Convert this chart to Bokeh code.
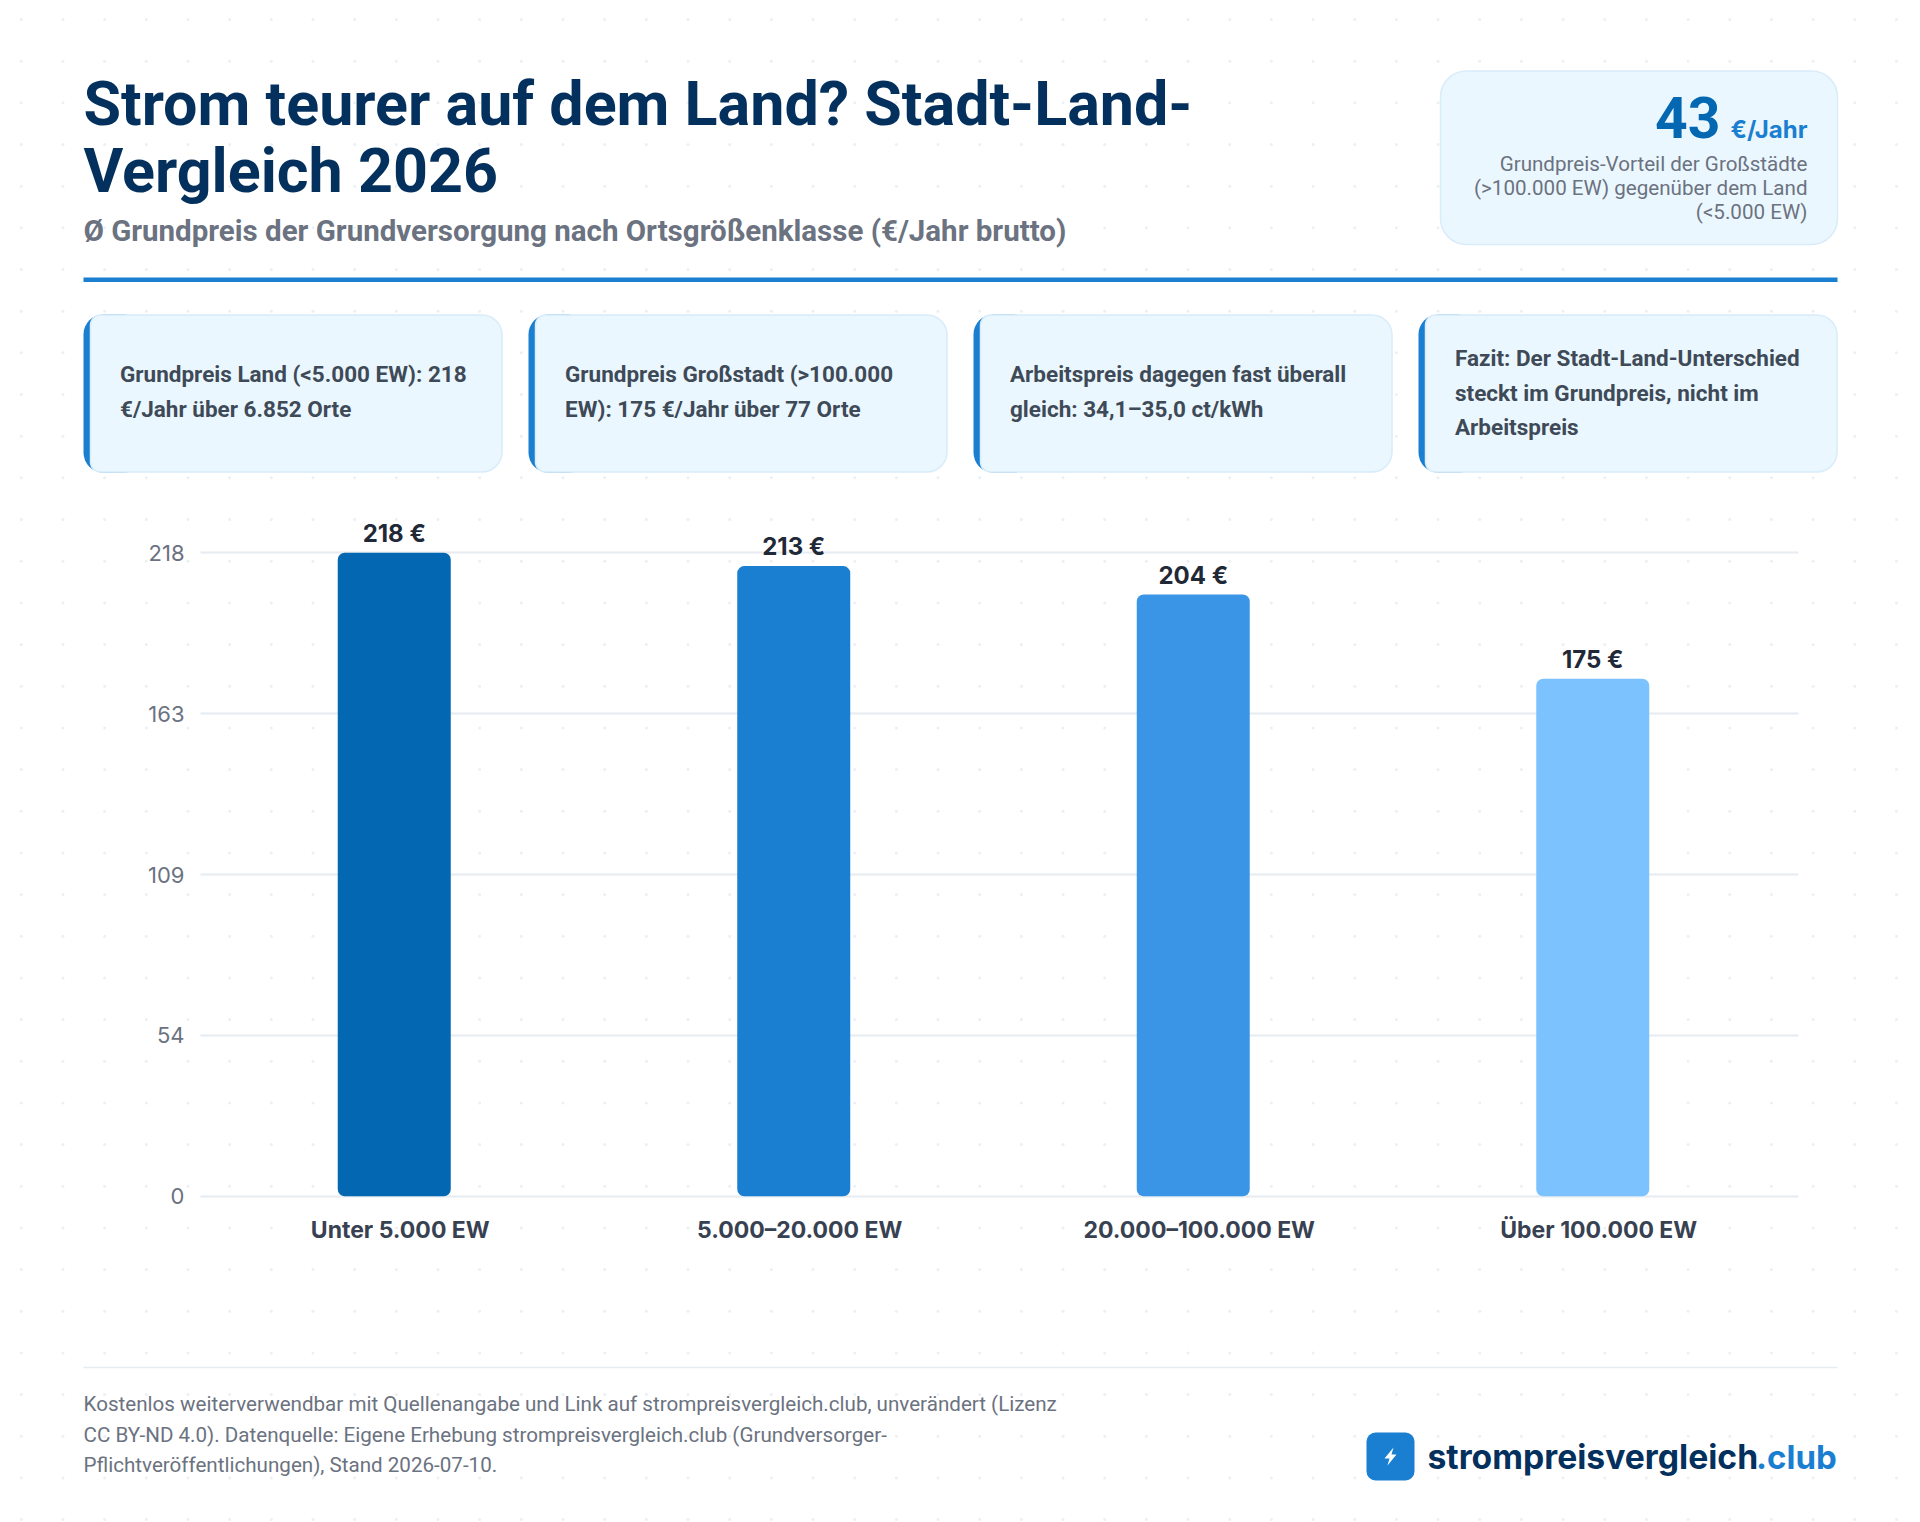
import numpy as np
from bokeh.plotting import figure
from bokeh.models import Range1d, FixedTicker, Label, ColumnDataSource
from bokeh.core.properties import value
from bokeh.embed import file_html
from bokeh.resources import INLINE

# ---- data ----
categories = ["Unter 5.000 EW", "5.000–20.000 EW", "20.000–100.000 EW", "Über 100.000 EW"]
grundpreis = [218, 213.5, 203.9, 175.3]
value_labels = ["218 €", "213 €", "204 €", "175 €"]
bar_colors = ["#0367B2", "#1A7FD0", "#3A95E6", "#7CC2FF"]
y_ticks = [0, 54.5, 109, 163.5, 218]
y_tick_labels = ["0", "54", "109", "163", "218"]

title_lines = ["Strom teurer auf dem Land? Stadt-Land-", "Vergleich 2026"]
subtitle = "Ø Grundpreis der Grundversorgung nach Ortsgrößenklasse (€/Jahr brutto)"
kpi_value = "43"
kpi_unit = "€/Jahr"
kpi_lines = ["Grundpreis-Vorteil der Großstädte", "(>100.000 EW) gegenüber dem Land", "(<5.000 EW)"]
cards = [
    ["Grundpreis Land (<5.000 EW): 218", "€/Jahr über 6.852 Orte"],
    ["Grundpreis Großstadt (>100.000", "EW): 175 €/Jahr über 77 Orte"],
    ["Arbeitspreis dagegen fast überall", "gleich: 34,1–35,0 ct/kWh"],
    ["Fazit: Der Stadt-Land-Unterschied", "steckt im Grundpreis, nicht im", "Arbeitspreis"],
]
footer_lines = [
    "Kostenlos weiterverwendbar mit Quellenangabe und Link auf strompreisvergleich.club, unverändert (Lizenz",
    "CC BY-ND 4.0). Datenquelle: Eigene Erhebung strompreisvergleich.club (Grundversorger-",
    "Pflichtveröffentlichungen), Stand 2026-07-10.",
]
brand = ["strompreisvergleich", ".club"]

# ---- layout constants (page pixels) ----
W, H = 1920, 1522
NAVY, BLUE, GREY, SLATE = "#03305C", "#1A7FD0", "#6B7280", "#3E4A57"
CARD_FILL, CARD_LINE = "#EBF7FE", "#D9ECFA"
PLOT_L, PLOT_R, BASE_Y, TOP_Y = 200, 1798, 1195.7, 552.3
BAND = (PLOT_R - PLOT_L) / 4
PPU = (BASE_Y - TOP_Y) / 218
K = 0.35   # offset of the renderer's alphabetic baseline, in em


def xdata(px):
    return (px - PLOT_L - BAND / 2) / BAND


def ydata(py):
    return (BASE_Y - py) / PPU


p = figure(width=W, height=H, output_backend="svg", toolbar_location=None,
           x_range=Range1d(xdata(0), xdata(W)), y_range=Range1d(ydata(H), ydata(0)),
           min_border=0, background_fill_color="white", border_fill_color="white")
p.outline_line_color = None
p.extra_x_ranges = {"px": Range1d(0, W)}
p.extra_y_ranges = {"py": Range1d(H, 0)}
PX = dict(x_range_name="px", y_range_name="py")

# dotted page background
gx, gy = np.meshgrid(20.8 + 41.67 * np.arange(46), 19 + 41.67 * np.arange(37))
p.scatter(gx.ravel(), gy.ravel(), size=3, color="#EBF0F3", line_color=None, level="underlay", **PX)

# axes and grid through the library's scales
xa = p.xaxis[0]
xa.fixed_location = 0
xa.ticker = FixedTicker(ticks=list(range(len(categories))))
xa.major_label_overrides = {i: c for i, c in enumerate(categories)}
xa.axis_line_color = None
xa.major_tick_line_color = None
xa.minor_tick_line_color = None
xa.major_label_text_font = "Inter"
xa.major_label_text_font_size = "23px"
xa.major_label_text_font_style = "bold"
xa.major_label_text_color = "#374151"
xa.major_label_standoff = 14

ya = p.yaxis[0]
ya.fixed_location = xdata(PLOT_L)
ya.ticker = FixedTicker(ticks=y_ticks)
ya.major_label_overrides = {t: l for t, l in zip(y_ticks, y_tick_labels)}
ya.axis_line_color = None
ya.major_tick_line_color = None
ya.minor_tick_line_color = None
ya.major_label_text_font = "Inter"
ya.major_label_text_font_size = "22px"
ya.major_label_text_color = GREY
ya.major_label_standoff = 10

p.xgrid.visible = False
p.ygrid.ticker = FixedTicker(ticks=y_ticks)
if "cross_bounds" in p.ygrid.properties():
    p.ygrid.cross_bounds = (xdata(PLOT_L), xdata(PLOT_R))
    p.ygrid.grid_line_color = "#E6ECF2"
    p.ygrid.grid_line_width = 2
else:
    p.ygrid.visible = False
    p.segment(x0=[xdata(PLOT_L)] * 5, x1=[xdata(PLOT_R)] * 5, y0=y_ticks, y1=y_ticks,
              line_color="#E6ECF2", line_width=2, level="underlay")


def label(x, y, text, size, color, style="normal", align="left", font="Roboto"):
    p.add_layout(Label(x=x, y=y - K * size, text=text, text_font=font, text_font_size=f"{size}px",
                       text_color=color, text_font_style=style, text_align=align,
                       text_baseline="alphabetic", **PX))


# header
label(83, 125, title_lines[0], 61, NAVY, "bold")
label(83, 192, title_lines[1], 61, NAVY, "bold")
label(83, 241, subtitle, 29.5, GREY, "bold")
p.quad(left=[83], right=[1837], top=[277], bottom=[281.5], color=BLUE, line_color=None, **PX)

# KPI box
p.quad(left=[1440], right=[1837], top=[70.5], bottom=[244], fill_color=CARD_FILL,
       line_color=CARD_LINE, line_width=1.5, border_radius=26, **PX)
label(1720, 137, kpi_value, 57, "#0367B2", "bold", "right")
label(1807, 137, kpi_unit, 24, BLUE, "bold", "right", font="Inter")
for line, base in zip(kpi_lines, [171, 195, 219]):
    label(1807, base, line, 20.6, GREY, align="right")

# cards
card_w = 418.5
for i, lines in enumerate(cards):
    left = 83 + i * 445
    p.quad(left=[left], right=[left + 60], top=[314], bottom=[472], fill_color=BLUE,
           line_color=None, border_radius=20, **PX)
    p.quad(left=[left + 7], right=[left + card_w], top=[314.5], bottom=[471.5], fill_color=CARD_FILL,
           line_color=CARD_LINE, line_width=1.5, border_radius=(10, 20, 20, 10), **PX)
    bases = [381, 416] if len(lines) == 2 else [365, 400, 434.5]
    for line, base in zip(lines, bases):
        label(left + 36.5, base, line, 22.5, SLATE, "bold")

# bars
src = ColumnDataSource(dict(
    x=[i - 6 / BAND for i in range(len(categories))],
    top=grundpreis, color=bar_colors, text=value_labels))
p.vbar(x="x", top="top", bottom=0, width=113 / BAND, color="color", line_color=None,
       border_radius=7, source=src)
p.text(x="x", y="top", text="text", source=src, text_font=value("Inter"), text_font_size="24px",
       text_font_style="bold", text_color="#1F2937", text_align="center",
       text_baseline="alphabetic", y_offset=-11 - K * 24)

# footer
p.quad(left=[83], right=[1837], top=[1366.2], bottom=[1367.8], color="#E6ECF0", line_color=None, **PX)
for line, base in zip(footer_lines, [1411, 1442, 1472]):
    label(83, base, line, 20.6, GREY)

# logo
p.quad(left=[1366], right=[1414], top=[1432], bottom=[1480], color=BLUE, line_color=None,
       border_radius=9, **PX)
p.patch([1393, 1384, 1389, 1387, 1396, 1391], [1447, 1458, 1458, 1465, 1454, 1454],
        color="white", line_color=None, **PX)
label(1427, 1468, brand[0], 33.7, NAVY, "bold", font="Inter")
label(1755.5, 1468, brand[1], 33, BLUE, "bold", font="Inter")

open("out.html", "w").write(file_html(p, INLINE))
